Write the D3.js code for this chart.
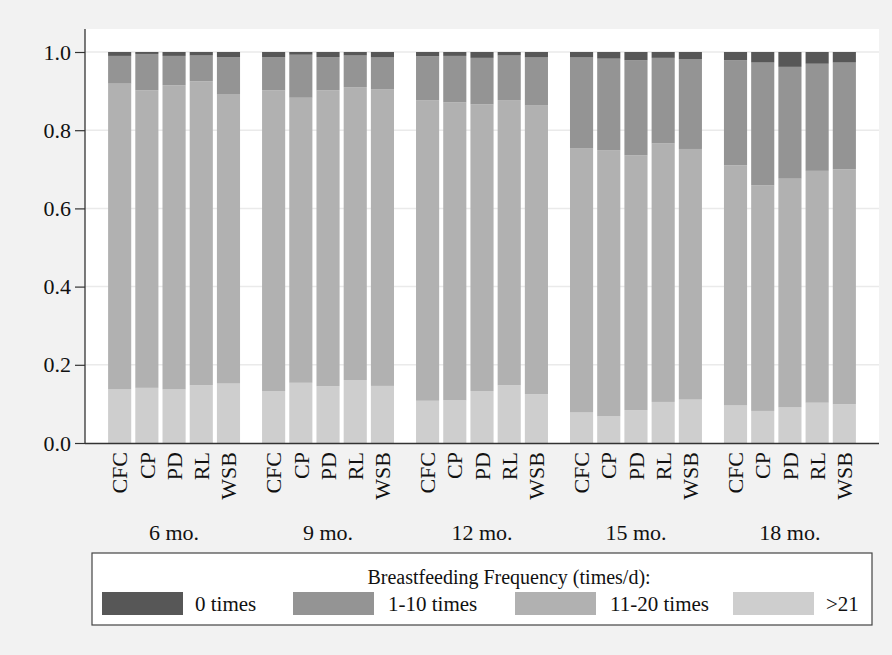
<!DOCTYPE html>
<html>
<head>
<meta charset="utf-8">
<script src="https://cdn.jsdelivr.net/npm/d3@7"></script>
<style>
  html, body { margin: 0; padding: 0; background: #f2f2f2; }
  svg { display: block; font-family: "Liberation Serif", "DejaVu Serif", serif; }
  svg text { font-family: "Liberation Serif", "DejaVu Serif", serif !important; fill: #111; }
</style>
</head>
<body>
<svg id="chart" width="892" height="655"></svg>
<script>
// ---- data ----
const timepoints = ["6 mo.", "9 mo.", "12 mo.", "15 mo.", "18 mo."];
const sites = ["CFC", "CP", "PD", "RL", "WSB"];
const categories = ["0 times", "1-10 times", "11-20 times", ">21"];
const yTicks = [0, 0.2, 0.4, 0.6, 0.8, 1.0];

// values per timepoint (rows) and site (columns)
const zeroTimes = [
  [0.010, 0.005, 0.010, 0.009, 0.013],
  [0.013, 0.007, 0.013, 0.009, 0.014],
  [0.011, 0.010, 0.015, 0.009, 0.014],
  [0.014, 0.017, 0.021, 0.015, 0.018],
  [0.021, 0.027, 0.038, 0.030, 0.027]
];
const times1to10 = [
  [0.071, 0.093, 0.075, 0.066, 0.096],
  [0.085, 0.110, 0.085, 0.081, 0.081],
  [0.113, 0.119, 0.119, 0.114, 0.123],
  [0.233, 0.234, 0.243, 0.219, 0.230],
  [0.269, 0.314, 0.286, 0.274, 0.273]
];
const times11to20 = [
  [0.782, 0.761, 0.778, 0.777, 0.739],
  [0.769, 0.729, 0.757, 0.749, 0.759],
  [0.768, 0.762, 0.733, 0.729, 0.738],
  [0.675, 0.681, 0.652, 0.661, 0.641],
  [0.614, 0.577, 0.585, 0.593, 0.601]
];
const over21 = [
  [0.137, 0.141, 0.137, 0.148, 0.152],
  [0.133, 0.154, 0.145, 0.161, 0.146],
  [0.108, 0.109, 0.133, 0.148, 0.125],
  [0.078, 0.068, 0.084, 0.105, 0.111],
  [0.096, 0.082, 0.091, 0.103, 0.099]
];

const colors = {"0 times": "#575757", "1-10 times": "#949494", "11-20 times": "#b1b1b1", ">21": "#cecece"};
const FONT = "'Liberation Serif', 'DejaVu Serif', serif";

// ---- build rows ----
const rows = [];
timepoints.forEach((t, i) => {
  sites.forEach((s, j) => {
    rows.push({
      time: t, site: s,
      "0 times": zeroTimes[i][j],
      "1-10 times": times1to10[i][j],
      "11-20 times": times11to20[i][j],
      ">21": over21[i][j]
    });
  });
});

const svg = d3.select("#chart").attr("font-family", FONT);
const plot = {left: 85, right: 879, top: 29, bottom: 443};

// plot region
svg.append("rect")
  .attr("x", plot.left).attr("y", plot.top)
  .attr("width", plot.right - plot.left).attr("height", plot.bottom - plot.top)
  .attr("fill", "#ffffff");

const y = d3.scaleLinear().domain([0, 1]).range([plot.bottom, 52]);
const x0 = d3.scaleBand().domain(timepoints).range([plot.left, plot.right])
  .paddingInner(0.143).paddingOuter(0.15);
const x1 = d3.scaleBand().domain(sites).range([0, x0.bandwidth()])
  .paddingInner(0.15).paddingOuter(0);

// gridlines
svg.append("g").selectAll("line").data(yTicks.filter(d => d > 0)).join("line")
  .attr("x1", plot.left).attr("x2", plot.right)
  .attr("y1", d => y(d)).attr("y2", d => y(d))
  .attr("stroke", "#eaeaea").attr("stroke-width", 1.5);

// stacked bars (bottom to top: >21, 11-20, 1-10, 0 times)
const stackKeys = [">21", "11-20 times", "1-10 times", "0 times"];
const series = d3.stack().keys(stackKeys)(rows);
svg.append("g").selectAll("g").data(series).join("g")
  .attr("fill", d => colors[d.key])
  .selectAll("rect").data(d => d).join("rect")
  .attr("x", d => x0(d.data.time) + x1(d.data.site))
  .attr("width", x1.bandwidth())
  .attr("y", d => y(d[1]))
  .attr("height", d => y(d[0]) - y(d[1]));

// y axis
const yAxis = d3.axisLeft(y).tickValues(yTicks).tickFormat(d3.format(".1f")).tickSize(10).tickPadding(4);
const ga = svg.append("g").attr("transform", `translate(${plot.left},0)`).call(yAxis)
  .attr("font-family", FONT);
ga.select(".domain").remove();
ga.selectAll(".tick line").attr("stroke", "#333").attr("stroke-width", 1.2);
ga.selectAll(".tick text").style("font-size", "22px").style("font-family", FONT).attr("fill", "#111");

// axis lines
svg.append("line").attr("x1", plot.left).attr("x2", plot.left)
  .attr("y1", plot.top).attr("y2", plot.bottom + 0.5)
  .attr("stroke", "#333").attr("stroke-width", 1.3);
svg.append("line").attr("x1", plot.left).attr("x2", plot.right)
  .attr("y1", plot.bottom + 0.5).attr("y2", plot.bottom + 0.5)
  .attr("stroke", "#333").attr("stroke-width", 1.3);

// site labels (rotated)
svg.append("g").selectAll("text").data(rows).join("text")
  .attr("transform", d => `translate(${x0(d.time) + x1(d.site) + x1.bandwidth() / 2},452) rotate(-90)`)
  .attr("text-anchor", "end")
  .attr("dy", "0.35em")
  .style("font-size", "22px").style("font-family", FONT)
  .text(d => d.site);

// timepoint labels
svg.append("g").selectAll("text").data(timepoints).join("text")
  .attr("x", d => x0(d) + x0.bandwidth() / 2)
  .attr("y", 540)
  .attr("text-anchor", "middle")
  .style("font-size", "22px").style("font-family", FONT)
  .text(d => d);

// legend
const lg = svg.append("g");
lg.append("rect").attr("x", 92).attr("y", 553).attr("width", 780).attr("height", 72)
  .attr("fill", "#ffffff").attr("stroke", "#444").attr("stroke-width", 1.2);
lg.append("text").attr("x", 509).attr("y", 584).attr("text-anchor", "middle")
  .style("font-size", "20px").style("font-family", FONT).text("Breastfeeding Frequency (times/d):");
const keyX = [102, 293, 515, 733];
const textX = [195, 388, 610, 826];
categories.forEach((c, i) => {
  lg.append("rect").attr("x", keyX[i]).attr("y", 592).attr("width", 81).attr("height", 23)
    .attr("fill", colors[c]);
  lg.append("text").attr("x", textX[i]).attr("y", 611)
    .style("font-size", "21px").style("font-family", FONT).text(c);
});
</script>
</body>
</html>
